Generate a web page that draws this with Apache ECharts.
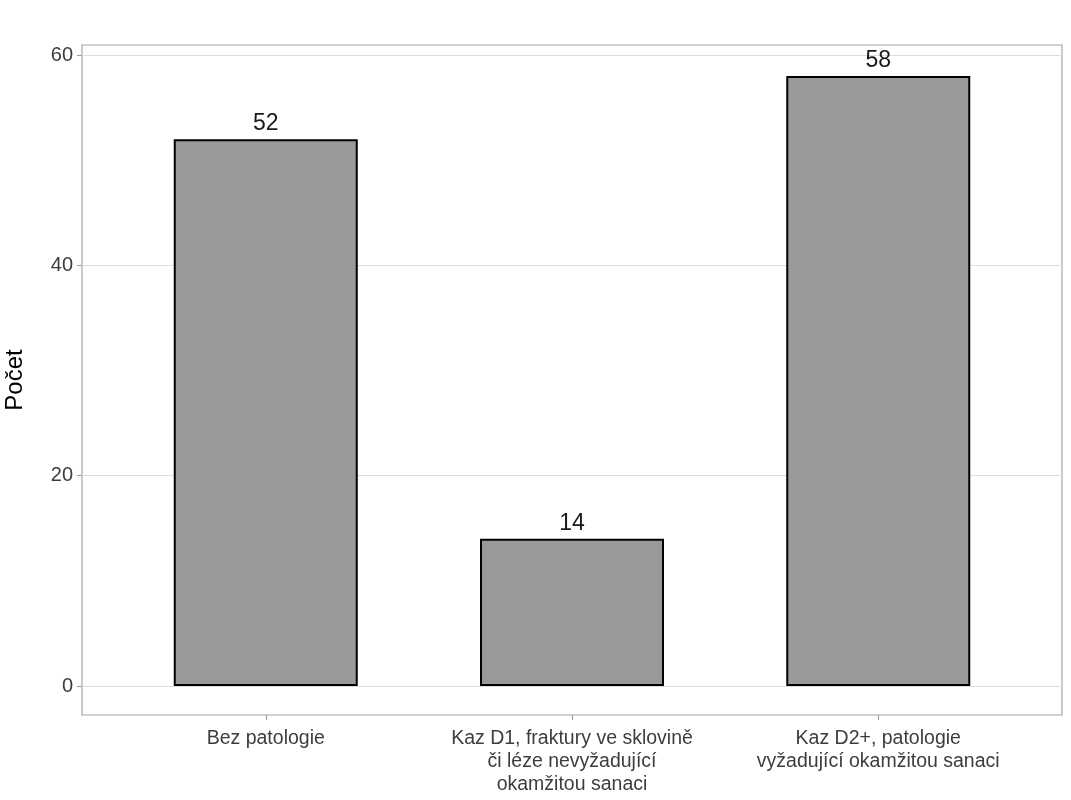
<!DOCTYPE html>
<html>
<head>
<meta charset="utf-8">
<script src="https://cdn.jsdelivr.net/npm/echarts@6/dist/echarts.min.js"></script>
<style>
  html, body { margin: 0; padding: 0; background: #fff; }
  #chart { width: 1071px; height: 800px; }
</style>
</head>
<body>
<div id="chart"></div>
<script>
// kategorie a počty
const categories = [
  'Bez patologie',
  'Kaz D1, fraktury ve sklovině\nči léze nevyžadující\nokamžitou sanaci',
  'Kaz D2+, patologie\nvyžadující okamžitou sanaci'
];
const counts = [52, 14, 58];
const yTicks = [0, 20, 40, 60];

const chart = echarts.init(document.getElementById('chart'));

const option = {
  backgroundColor: '#fff',
  textStyle: { fontFamily: 'Liberation Sans, Arial, sans-serif' },
  grid: {
    left: 82, right: 9, top: 45, bottom: 85,
    outerBoundsMode: 'none', containLabel: false,
    show: true, borderColor: '#a6a6a6', borderWidth: 1.2, backgroundColor: '#fff'
  },
  xAxis: {
    type: 'value',
    min: 0.4,
    max: 3.6,
    axisLine: { show: false, onZero: false },
    splitLine: { show: false },
    axisTick: { show: true, customValues: [1, 2, 3], length: 5, lineStyle: { color: '#999' } },
    axisLabel: {
      customValues: [1, 2, 3],
      formatter: v => categories[Math.round(v) - 1] || '',
      fontSize: 19.5, color: '#3d3d3d', lineHeight: 23, margin: 12
    }
  },
  yAxis: {
    type: 'value',
    min: -2.75,
    max: 60.95,
    name: 'Počet',
    nameLocation: 'middle',
    nameGap: 55,
    nameTextStyle: { fontSize: 24, color: '#000' },
    axisLine: { show: false, onZero: false },
    axisTick: { show: true, customValues: yTicks, length: 5, lineStyle: { color: '#999' } },
    axisLabel: { customValues: yTicks, fontSize: 20, color: '#3d3d3d', margin: 9 },
    splitLine: { show: true, lineStyle: { color: '#dedede', width: 1.2 } }
  },
  series: [{
    type: 'bar',
    data: counts.map((c, i) => [i + 1, c]),
    barWidth: 184,
    itemStyle: { color: '#999999', borderColor: '#000', borderWidth: 2 },
    label: { show: true, position: 'top', fontSize: 23, color: '#1a1a1a', distance: 4,
      formatter: p => p.value[1] }
  }]
};

chart.setOption(option);
</script>
</body>
</html>
